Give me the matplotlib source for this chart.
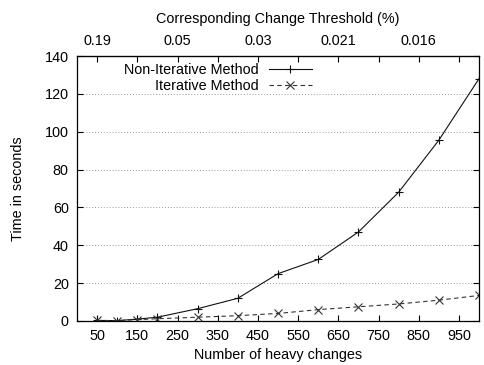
import matplotlib
matplotlib.use("Agg")
import matplotlib.pyplot as plt

plt.rcParams['font.family'] = ['Liberation Sans', 'DejaVu Sans']
plt.rcParams['font.size'] = 10.4

changes = [50, 100, 150, 200, 300, 400, 500, 600, 700, 800, 900, 1000]
non_iterative = [0.3, 0.2, 1.0, 2.0, 6.5, 12.0, 25.0, 32.5, 47.0, 68.0, 95.5, 128.0]
iterative = [0.3, 0.2, 0.7, 1.2, 2.0, 2.8, 4.0, 6.0, 7.5, 9.0, 11.0, 13.5]

bottom_ticks = [50, 150, 250, 350, 450, 550, 650, 750, 850, 950]
top_ticks = [50, 150, 250, 350, 450, 550, 650, 750, 850, 950]
top_labels = ["0.19", "", "0.05", "", "0.03", "", "0.021", "", "0.016", ""]
y_ticks = [0, 20, 40, 60, 80, 100, 120, 140]

fig = plt.figure(figsize=(4.84, 3.65), dpi=100)
ax = fig.add_axes([77/484, 1-321/365, (479-77)/484, (321-56)/365])

ax.plot(changes, non_iterative, color='#111111', lw=0.8, marker='+', ms=6, mew=0.8,
        label='Non-Iterative Method')
ax.plot(changes, iterative, color='#333333', lw=0.8, ls=(0, (4, 3)), marker='x', ms=5.5,
        mew=0.8, label='Iterative Method')

ax.set_xlim(0, 1000)
ax.set_ylim(0, 140)
ax.set_xticks(bottom_ticks)
ax.set_yticks(y_ticks)
ax.tick_params(direction='in', length=4, width=0.8, top=False, right=True)
ax.tick_params(axis='y', pad=6)
ax.tick_params(axis='x', pad=6)
for y in y_ticks[1:-1]:
    ax.axhline(y, color='#999999', lw=0.7, ls=(0, (1, 2)), zorder=0)
for s in ax.spines.values():
    s.set_linewidth(0.9)

top = ax.secondary_xaxis('top')
top.set_xticks(top_ticks)
top.set_xticklabels(top_labels)
top.tick_params(direction='in', length=4, width=0.8, pad=6)
top.set_xlabel('Corresponding Change Threshold (%)', labelpad=8)

ax.set_xlabel('Number of heavy changes', labelpad=3)
ax.set_ylabel('Time in seconds', labelpad=14)

ax.legend(loc='upper right', bbox_to_anchor=(312/484, 1-63/365),
          bbox_transform=fig.transFigure, frameon=False, markerfirst=False,
          handlelength=3.0, handletextpad=0.7, borderpad=0, borderaxespad=0,
          labelspacing=0.15)

fig.savefig('out.png', dpi=100)
